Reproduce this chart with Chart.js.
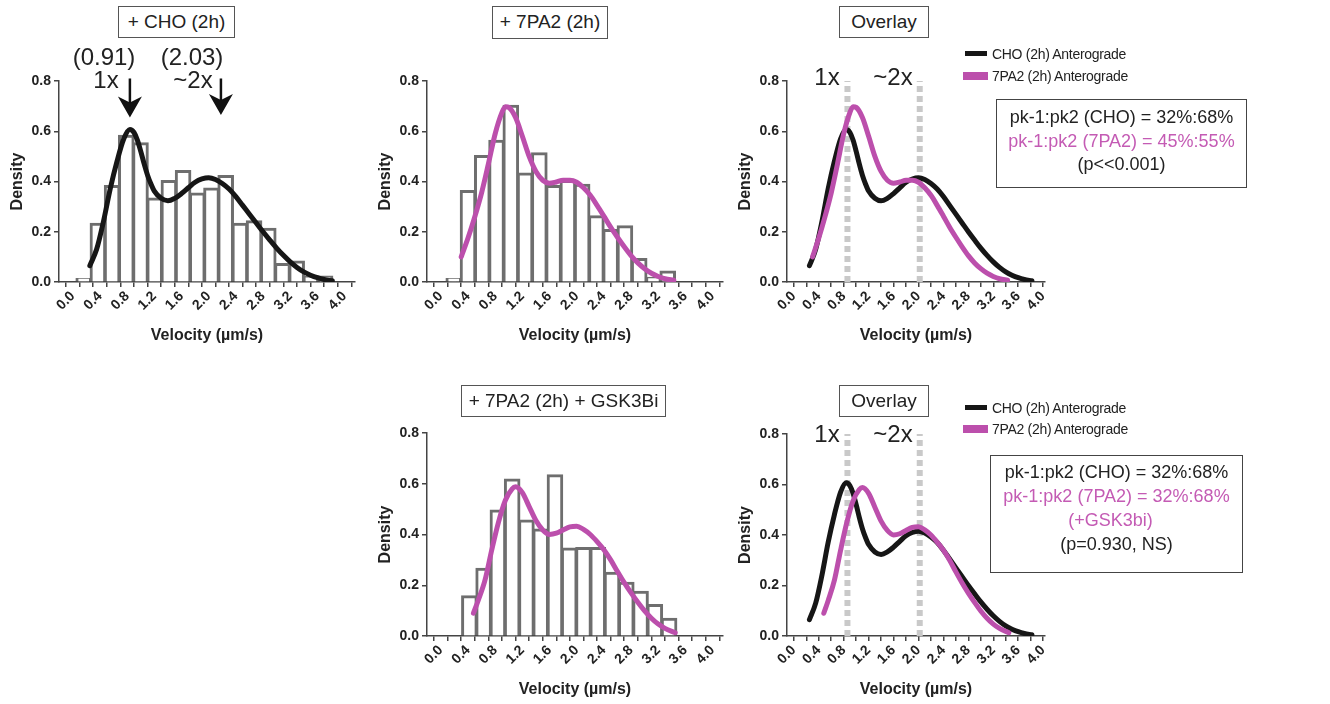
<!DOCTYPE html>
<html>
<head>
<meta charset="utf-8">
<script src="https://cdn.jsdelivr.net/npm/chart.js@4.4.0/dist/chart.umd.min.js"></script>
<style>
  body { margin: 0; background: #fff; width: 1330px; height: 704px; position: relative; overflow: hidden;
         font-family: "Liberation Sans", Arial, sans-serif; color: #222; }
  .panel { position: absolute; }
  .tbox { position: absolute; border: 1.3px solid #555; box-sizing: border-box; font-size: 19px;
          text-align: center; line-height: 30px; color: #222; }
  .ann { position: absolute; width: 90px; text-align: center; font-size: 24px; line-height: 28px; color: #222; }
  .leg { position: absolute; font-size: 14px; letter-spacing: -0.3px; line-height: 16px; color: #222; }
  .sw { position: absolute; }
  .stats { position: absolute; border: 1.3px solid #444; box-sizing: border-box; text-align: center;
           font-size: 18px; color: #222; }
  .mag { color: #c45bb4; }
</style>
</head>
<body>

<div class="panel" style="left:0px;top:41px;width:370px;height:311px"><canvas id="cCho"></canvas></div>
<div class="panel" style="left:368px;top:41px;width:370px;height:311px"><canvas id="c7pa2"></canvas></div>
<div class="panel" style="left:728px;top:41px;width:332px;height:311px"><canvas id="cOv1"></canvas></div>
<div class="panel" style="left:368px;top:393px;width:370px;height:313px"><canvas id="cGsk"></canvas></div>
<div class="panel" style="left:728px;top:394px;width:332px;height:312px"><canvas id="cOv2"></canvas></div>

<!-- titres des panneaux -->
<div class="tbox" style="left:118px;top:6px;width:117px;height:32px">+ CHO (2h)</div>
<div class="tbox" style="left:492px;top:6px;width:116px;height:33px">+ 7PA2 (2h)</div>
<div class="tbox" style="left:839px;top:6px;width:90px;height:32px">Overlay</div>
<div class="tbox" style="left:461px;top:385px;width:205px;height:32px">+ 7PA2 (2h) + GSK3Bi</div>
<div class="tbox" style="left:839px;top:385px;width:90px;height:32px">Overlay</div>

<!-- annotations des pics -->
<div class="ann" style="left:59px;top:43px">(0.91)</div>
<div class="ann" style="left:61px;top:66px">1x</div>
<div class="ann" style="left:147px;top:43px">(2.03)</div>
<div class="ann" style="left:148px;top:66px">~2x</div>
<div class="ann" style="left:782px;top:63px">1x</div>
<div class="ann" style="left:848px;top:63px">~2x</div>
<div class="ann" style="left:782px;top:420px">1x</div>
<div class="ann" style="left:848px;top:420px">~2x</div>

<!-- légendes -->
<div class="sw" style="left:965px;top:51px;width:22px;height:5px;background:#161616"></div>
<div class="leg" style="left:992px;top:46px">CHO (2h) Anterograde</div>
<div class="sw" style="left:963px;top:72px;width:25px;height:8px;background:#bc4fac"></div>
<div class="leg" style="left:992px;top:68px">7PA2 (2h) Anterograde</div>
<div class="sw" style="left:965px;top:405px;width:22px;height:5px;background:#161616"></div>
<div class="leg" style="left:992px;top:400px">CHO (2h) Anterograde</div>
<div class="sw" style="left:963px;top:425px;width:25px;height:8px;background:#bc4fac"></div>
<div class="leg" style="left:992px;top:421px">7PA2 (2h) Anterograde</div>

<!-- encadrés statistiques -->
<div class="stats" style="left:996px;top:99px;width:251px;height:89px;padding-top:6px;line-height:23.5px">
  pk-1:pk2 (CHO) = 32%:68%<br><span class="mag">pk-1:pk2 (7PA2) = 45%:55%</span><br>(p&lt;&lt;0.001)
</div>
<div class="stats" style="left:990px;top:455px;width:253px;height:118px;padding-top:4px;line-height:24px">
  pk-1:pk2 (CHO) = 32%:68%<br><span class="mag">pk-1:pk2 (7PA2) = 32%:68%</span><br><span class="mag" style="position:relative;left:-6px">(+GSK3bi)</span><br>(p=0.930, NS)
</div>

<script>
// données : histogrammes (centres des classes, densité)
const choBinCenters = [0.16, 0.369, 0.578, 0.787, 0.996, 1.205, 1.414, 1.623, 1.832, 2.041, 2.25, 2.459, 2.668, 2.877, 3.086, 3.295, 3.504, 3.713];
const choDensity    = [0.01, 0.23, 0.38, 0.58, 0.55, 0.33, 0.40, 0.44, 0.35, 0.37, 0.42, 0.23, 0.24, 0.21, 0.07, 0.08, 0.02, 0.02];

const pa2BinCenters = [0.19, 0.40, 0.61, 0.82, 1.03, 1.24, 1.45, 1.66, 1.87, 2.08, 2.29, 2.50, 2.71, 2.92, 3.13, 3.34];
const pa2Density    = [0.01, 0.36, 0.50, 0.56, 0.70, 0.43, 0.51, 0.38, 0.40, 0.385, 0.26, 0.205, 0.22, 0.09, 0.015, 0.04];

const gskBinCenters = [0.42, 0.63, 0.84, 1.05, 1.26, 1.47, 1.68, 1.89, 2.10, 2.31, 2.52, 2.73, 2.94, 3.15, 3.36];
const gskDensity    = [0.155, 0.263, 0.493, 0.615, 0.453, 0.418, 0.632, 0.343, 0.345, 0.345, 0.247, 0.208, 0.172, 0.12, 0.066];

// courbes de densité (KDE)
const choCurveX = [0.25, 0.35, 0.45, 0.55, 0.65, 0.75, 0.84, 0.9, 0.95, 1.0, 1.05, 1.1, 1.15, 1.2, 1.3, 1.4, 1.5, 1.6, 1.7, 1.8, 1.9, 2.0, 2.1, 2.2, 2.3, 2.4, 2.5, 2.6, 2.7, 2.8, 2.9, 3.0, 3.1, 3.2, 3.3, 3.4, 3.5, 3.6, 3.7, 3.82];
const choCurveY = [0.065, 0.13, 0.24, 0.37, 0.48, 0.57, 0.607, 0.595, 0.565, 0.52, 0.47, 0.425, 0.39, 0.362, 0.333, 0.323, 0.333, 0.352, 0.375, 0.397, 0.41, 0.415, 0.408, 0.392, 0.37, 0.34, 0.305, 0.27, 0.235, 0.2, 0.167, 0.135, 0.106, 0.08, 0.058, 0.04, 0.027, 0.017, 0.01, 0.005];

const pa2CurveX = [0.3, 0.4, 0.5, 0.6, 0.7, 0.8, 0.9, 0.95, 1.0, 1.1, 1.2, 1.3, 1.4, 1.5, 1.6, 1.7, 1.8, 1.9, 2.0, 2.1, 2.2, 2.3, 2.4, 2.5, 2.6, 2.7, 2.8, 2.9, 3.0, 3.1, 3.2, 3.3, 3.43];
const pa2CurveY = [0.1, 0.175, 0.26, 0.355, 0.47, 0.59, 0.675, 0.698, 0.695, 0.655, 0.58, 0.5, 0.44, 0.405, 0.393, 0.398, 0.405, 0.405, 0.397, 0.375, 0.345, 0.305, 0.262, 0.218, 0.178, 0.14, 0.105, 0.076, 0.053, 0.035, 0.022, 0.013, 0.007];

const gskCurveX = [0.48, 0.55, 0.65, 0.75, 0.85, 0.95, 1.05, 1.1, 1.2, 1.3, 1.4, 1.5, 1.6, 1.7, 1.8, 1.9, 2.0, 2.1, 2.2, 2.3, 2.4, 2.5, 2.6, 2.7, 2.8, 2.9, 3.0, 3.1, 3.2, 3.3, 3.45];
const gskCurveY = [0.09, 0.14, 0.22, 0.34, 0.45, 0.535, 0.58, 0.588, 0.565, 0.51, 0.455, 0.418, 0.4, 0.405, 0.418, 0.43, 0.433, 0.42, 0.4, 0.372, 0.34, 0.3, 0.254, 0.21, 0.17, 0.133, 0.099, 0.07, 0.047, 0.03, 0.013];

// positions des pics (lignes pointillées des superpositions)
const peakLines = [0.86, 2.02];
// flèches du premier panneau
const arrowX = [0.84, 2.18];
const arrowTipY = [0.655, 0.665];

const FONT = '"Liberation Sans", Arial, sans-serif';
const BLACK = '#161616';
const MAGENTA = '#bc4fac';
const BAR_EDGE = '#6e6e6e';

const pts = (xs, ys) => xs.map((x, i) => ({ x, y: ys[i] }));

function makeScales(xMin, xMax) {
  return {
    x: {
      type: 'linear', min: xMin, max: xMax,
      afterFit: s => { s.height = 65; },
      ticks: {
        stepSize: 0.2, includeBounds: false, autoSkip: false,
        minRotation: 45, maxRotation: 45, padding: 1, color: '#222',
        font: { family: FONT, size: 14, weight: 'bold' },
        callback: v => (Math.round(v * 10) % 4 === 0 ? (Math.round(v * 10) / 10).toFixed(1) : ''),
      },
      grid: { drawOnChartArea: false, tickLength: 5, color: '#444', lineWidth: 1.5 },
      border: { color: '#444', width: 1.5 },
      title: { display: true, text: 'Velocity (µm/s)', color: '#222', font: { family: FONT, size: 16, weight: 'bold' }, padding: { top: 0, bottom: 2 } },
    },
    y: {
      min: 0, max: 0.8,
      afterFit: s => { s.width = 55; },
      ticks: { stepSize: 0.2, padding: 3, color: '#222', font: { family: FONT, size: 14, weight: 'bold' }, callback: v => v.toFixed(1) },
      grid: { drawOnChartArea: false, tickLength: 5, color: '#444', lineWidth: 1.5 },
      border: { color: '#444', width: 1.5 },
      title: { display: true, text: 'Density', color: '#222', font: { family: FONT, size: 16, weight: 'bold' }, padding: { top: 4, bottom: 0 } },
    },
  };
}

const baseOptions = (xMin, xMax) => ({
  responsive: true, maintainAspectRatio: false, animation: false, events: [],
  layout: { padding: { left: 4, top: 40, right: 15, bottom: 5 } },
  plugins: { legend: { display: false }, tooltip: { enabled: false } },
  scales: makeScales(xMin, xMax),
});

function histDataset(centers, dens) {
  return {
    type: 'bar', data: pts(centers, dens), order: 2,
    backgroundColor: '#fff', borderColor: BAR_EDGE, borderWidth: 3, inflateAmount: 1.5,
    barPercentage: 1, categoryPercentage: 1,
  };
}

function curveDataset(xs, ys, color, order) {
  return {
    type: 'line', data: pts(xs, ys), order,
    borderColor: color, borderWidth: 5, pointRadius: 0, fill: false,
    cubicInterpolationMode: 'monotone', borderCapStyle: 'round', borderJoinStyle: 'round',
  };
}

function peakDatasets() {
  return peakLines.map(p => ({
    type: 'line', data: [{ x: p, y: 0 }, { x: p, y: 0.8 }], order: 5,
    borderColor: '#c9c9c9', borderWidth: 6, borderDash: [6, 4], pointRadius: 0, fill: false,
  }));
}

// flèches vers les pics (panneau CHO)
const arrowPlugin = {
  id: 'peakArrows',
  afterDraw(chart) {
    const { ctx, scales: { x, y } } = chart;
    ctx.save();
    ctx.fillStyle = '#111';
    ctx.strokeStyle = '#111';
    ctx.lineWidth = 2.5;
    arrowX.forEach((ax, i) => {
      const px = x.getPixelForValue(ax);
      const tip = y.getPixelForValue(arrowTipY[i]);
      const top = y.getPixelForValue(0.81);
      ctx.beginPath();
      ctx.moveTo(px, top);
      ctx.lineTo(px, tip - 10);
      ctx.stroke();
      ctx.beginPath();
      ctx.moveTo(px - 12, tip - 21);
      ctx.lineTo(px, tip - 15);
      ctx.lineTo(px + 12, tip - 21);
      ctx.lineTo(px, tip);
      ctx.closePath();
      ctx.fill();
    });
    ctx.restore();
  },
};

new Chart(document.getElementById('cCho'), {
  data: { datasets: [histDataset(choBinCenters, choDensity), curveDataset(choCurveX, choCurveY, BLACK, 0)] },
  options: baseOptions(-0.1, 4.05),
  plugins: [arrowPlugin],
});

new Chart(document.getElementById('c7pa2'), {
  data: { datasets: [histDataset(pa2BinCenters, pa2Density), curveDataset(pa2CurveX, pa2CurveY, MAGENTA, 0)] },
  options: baseOptions(-0.1, 4.05),
});

new Chart(document.getElementById('cGsk'), {
  data: { datasets: [histDataset(gskBinCenters, gskDensity), curveDataset(gskCurveX, gskCurveY, MAGENTA, 0)] },
  options: baseOptions(-0.1, 4.05),
});

new Chart(document.getElementById('cOv1'), {
  type: 'line',
  data: { datasets: [...peakDatasets(), curveDataset(choCurveX, choCurveY, BLACK, 1), curveDataset(pa2CurveX, pa2CurveY, MAGENTA, 0)] },
  options: baseOptions(-0.11, 4.03),
});

new Chart(document.getElementById('cOv2'), {
  type: 'line',
  data: { datasets: [...peakDatasets(), curveDataset(choCurveX, choCurveY, BLACK, 1), curveDataset(gskCurveX, gskCurveY, MAGENTA, 0)] },
  options: baseOptions(-0.11, 4.03),
});
</script>
</body>
</html>
